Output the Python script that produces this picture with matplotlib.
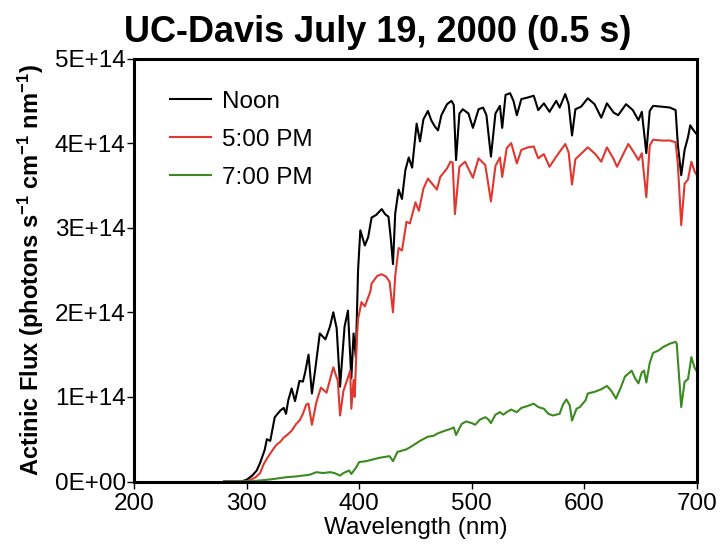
import matplotlib
matplotlib.use("Agg")
import matplotlib.pyplot as plt

plt.rcParams['font.family'] = ['Liberation Sans', 'DejaVu Sans']
plt.rcParams['mathtext.fontset'] = 'custom'
plt.rcParams['mathtext.rm'] = 'Liberation Sans:bold'
plt.rcParams['mathtext.default'] = 'rm'

title = "UC-Davis July 19, 2000 (0.5 s)"
xlabel = "Wavelength (nm)"
ylabel = r"Actinic Flux (photons s$^{-1}$ cm$^{-1}$ nm$^{-1}$)"
series_names = ["Noon", "5:00 PM", "7:00 PM"]
xticks = [200, 300, 400, 500, 600, 700]
yticks = [0, 1e14, 2e14, 3e14, 4e14, 5e14]
ytick_labels = ["0E+00", "1E+14", "2E+14", "3E+14", "4E+14", "5E+14"]

wl_noon = [280, 295, 300, 305, 309, 312, 316, 318, 321, 325, 330, 333, 335, 337, 340, 343, 347,
           350, 352, 355, 358, 361, 365, 370, 374, 377, 380, 383, 387, 390, 393, 395, 397, 399,
           401, 405, 408, 411, 415, 420, 423, 426, 428, 430, 432, 435, 438, 441, 444, 447, 451,
           454, 457, 461, 464, 467, 470, 473, 478, 482, 484, 486, 489, 492, 497, 501, 506, 510,
           513, 517, 521, 525, 527, 530, 534, 537, 540, 544, 550, 555, 559, 564, 569, 575, 578,
           583, 586, 589, 592, 597, 603, 609, 615, 620, 626, 630, 637, 643, 648, 651, 655, 658,
           661, 669, 676, 681, 683, 686, 689, 692, 694, 697, 700]
flux_noon = [0, 0, 0.02, 0.07, 0.13, 0.22, 0.37, 0.50, 0.48, 0.76, 0.84, 0.87, 0.80, 0.96, 1.10,
             0.95, 1.19, 1.18, 1.29, 1.50, 1.04, 1.33, 1.75, 1.68, 1.83, 2.00, 1.81, 1.12, 1.83,
             2.02, 1.22, 1.75, 1.47, 2.50, 2.97, 2.79, 2.89, 3.12, 3.15, 3.22, 3.16, 3.13, 2.88,
             2.57, 3.17, 3.45, 3.34, 3.68, 3.83, 3.71, 4.23, 4.02, 4.28, 4.38, 4.27, 4.20, 4.15,
             4.33, 4.46, 4.50, 4.45, 3.80, 4.35, 4.40, 4.35, 4.18, 4.40, 4.42, 4.33, 3.84, 4.35,
             4.44, 4.18, 4.57, 4.59, 4.50, 4.33, 4.52, 4.54, 4.56, 4.39, 4.47, 4.37, 4.50, 4.42,
             4.58, 4.46, 4.09, 4.40, 4.43, 4.53, 4.46, 4.30, 4.47, 4.36, 4.33, 4.46, 4.39, 4.27,
             4.37, 3.88, 4.38, 4.44, 4.43, 4.42, 4.39, 3.98, 3.62, 3.92, 4.07, 4.21, 4.15, 4.10]

wl_5pm = [280, 298, 302, 308, 312, 315, 318, 321, 324, 327, 330, 333, 336, 340, 344, 347, 350,
          353, 355, 358, 362, 366, 371, 374, 377, 381, 383, 386, 388, 392, 393, 395, 396, 398,
          399, 402, 405, 410, 411, 416, 420, 424, 427, 430, 432, 435, 438, 442, 445, 450, 453,
          457, 461, 466, 469, 472, 478, 481, 483, 485, 489, 494, 501, 506, 512, 517, 521, 525,
          527, 531, 535, 540, 544, 550, 555, 559, 564, 569, 575, 583, 586, 589, 592, 596, 603,
          609, 615, 620, 626, 629, 633, 639, 643, 648, 651, 655, 658, 661, 669, 676, 681, 683,
          686, 689, 692, 695, 698, 700]
flux_5pm = [0, 0, 0.01, 0.05, 0.10, 0.20, 0.27, 0.33, 0.39, 0.44, 0.47, 0.52, 0.55, 0.60, 0.68,
            0.72, 0.80, 0.91, 0.92, 0.67, 0.94, 1.11, 1.05, 1.20, 1.35, 1.19, 0.78, 1.07, 1.15,
            1.31, 0.86, 1.20, 1.00, 1.71, 1.92, 2.12, 2.07, 2.25, 2.34, 2.43, 2.45, 2.42, 2.36,
            2.00, 2.43, 2.76, 2.73, 3.07, 3.05, 3.30, 3.20, 3.46, 3.58, 3.50, 3.45, 3.60, 3.70,
            3.78, 3.77, 3.16, 3.72, 3.78, 3.59, 3.82, 3.74, 3.31, 3.73, 3.83, 3.60, 3.94, 4.00,
            3.76, 3.92, 3.95, 3.96, 3.82, 3.87, 3.72, 3.84, 3.99, 3.89, 3.51, 3.81, 3.86, 3.95,
            3.88, 3.78, 3.95, 3.81, 3.72, 3.83, 3.99, 3.91, 3.80, 3.88, 3.36, 3.97, 4.04, 4.03,
            4.03, 4.01, 3.75, 3.03, 3.52, 3.57, 3.78, 3.66, 3.62]

wl_7pm = [280, 300, 310, 318, 324, 335, 344, 356, 362, 368, 374, 378, 383, 386, 391, 393, 397,
          400, 406, 412, 418, 427, 430, 434, 442, 447, 454, 461, 466, 470, 476, 481, 484, 486,
          491, 495, 500, 503, 507, 512, 515, 517, 521, 525, 528, 531, 535, 540, 544, 549, 555,
          559, 564, 568, 572, 578, 581, 584, 587, 589, 593, 596, 601, 603, 609, 615, 620, 624,
          628, 632, 636, 642, 645, 648, 651, 653, 655, 658, 661, 666, 670, 676, 681, 682, 686,
          689, 692, 695, 698, 700]
flux_7pm = [0, 0, 0.01, 0.02, 0.03, 0.05, 0.06, 0.08, 0.11, 0.10, 0.11, 0.10, 0.07, 0.10, 0.13,
            0.09, 0.16, 0.23, 0.24, 0.26, 0.28, 0.30, 0.24, 0.35, 0.38, 0.42, 0.48, 0.53, 0.54,
            0.57, 0.60, 0.62, 0.64, 0.55, 0.68, 0.71, 0.69, 0.67, 0.73, 0.76, 0.73, 0.69, 0.79,
            0.82, 0.79, 0.82, 0.85, 0.82, 0.87, 0.89, 0.92, 0.88, 0.86, 0.80, 0.78, 0.80, 0.91,
            0.97, 0.90, 0.72, 0.86, 0.88, 0.96, 1.04, 1.06, 1.09, 1.13, 1.07, 0.98, 1.10, 1.24,
            1.31, 1.22, 1.16, 1.29, 1.31, 1.17, 1.40, 1.52, 1.55, 1.59, 1.63, 1.65, 1.63, 0.88,
            1.18, 1.21, 1.47, 1.34, 1.30]
scale = 1e14

colors = ["#000000", "#e0372f", "#3a8a1f"]

fig = plt.figure(figsize=(7.2, 5.48), dpi=100)
ax = fig.add_axes([134/720, 1 - 481.5/548, (697-134)/720, (481.5-58.5)/548])

for wl, fl, c, name in zip([wl_noon, wl_5pm, wl_7pm], [flux_noon, flux_5pm, flux_7pm],
                           colors, series_names):
    ax.plot(wl, [v * scale for v in fl], color=c, lw=1.5, label=name)

ax.set_xlim(xticks[0], xticks[-1])
ax.set_ylim(yticks[0], yticks[-1])
ax.set_xticks(xticks)
ax.set_xticklabels([str(t) for t in xticks])
ax.set_yticks(yticks)
ax.set_yticklabels(ytick_labels)
ax.tick_params(axis='both', direction='out', length=5, width=1, labelsize=17.5,
               colors='black')
ax.tick_params(axis='x', pad=3)
ax.tick_params(axis='y', pad=1)
for s in ax.spines.values():
    s.set_linewidth(2.2)

ax.set_xlabel(xlabel, fontsize=17.5, labelpad=2)
ax.set_ylabel(ylabel, fontsize=17, fontweight='bold', labelpad=6)

leg = ax.legend(loc='upper left', bbox_to_anchor=(0.025, 0.975), frameon=False,
                fontsize=17.5, handlelength=1.7, handletextpad=0.45, labelspacing=0.65)

fig.text(0.525, 1 - 42/548, title, ha='center', va='baseline', fontsize=26,
         fontweight='bold')

fig.savefig("out.png", dpi=100)
